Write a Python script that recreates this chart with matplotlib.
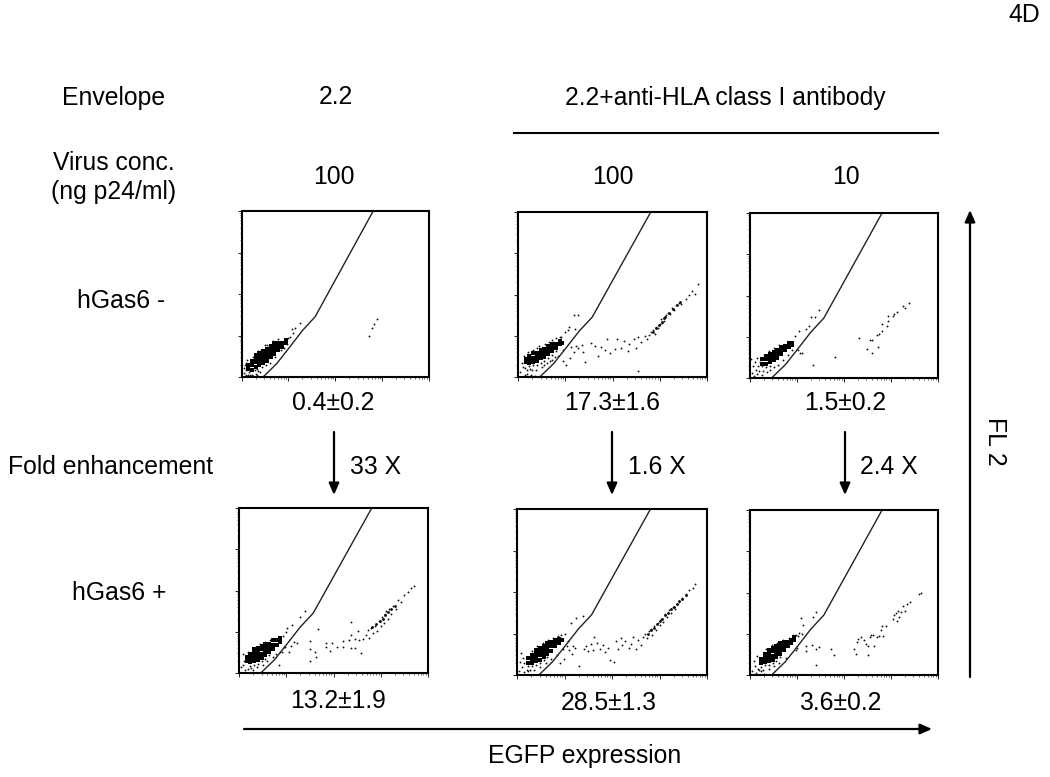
import matplotlib
matplotlib.use("Agg")
import matplotlib.pyplot as plt
import numpy as np
from matplotlib.ticker import LogLocator, NullFormatter

plt.rcParams['font.family'] = ['Liberation Sans', 'DejaVu Sans']

# Gate line, log10 decades
gate_x = [0.46, 0.75, 1.0, 1.3, 1.57, 2.81]
gate_y = [0.0, 0.32, 0.68, 1.12, 1.45, 4.0]

# Each panel: dense core events, dense branch events and sparse events, (log10 EGFP, log10 FL2)
core_a = [(.14,.20),(.14,.30),(.22,.18),(.22,.28),(.22,.38),(.30,.25),(.30,.35),(.30,.45),(.30,.52),
          (.38,.29),(.38,.39),(.38,.49),(.38,.57),(.46,.33),(.46,.43),(.46,.53),(.46,.62),
          (.54,.39),(.54,.49),(.54,.59),(.54,.68),(.62,.47),(.62,.57),(.62,.67),(.62,.75),
          (.70,.55),(.70,.65),(.70,.75),(.70,.81),(.78,.64),(.78,.73),(.78,.83),(.86,.73),(.86,.82),(.94,.82),(.94,.90)]
core_b = [(.16,.36),(.16,.44),(.24,.33),(.24,.43),(.24,.50),(.32,.37),(.32,.47),(.32,.57),(.40,.39),(.40,.49),(.40,.59),
          (.48,.45),(.48,.55),(.48,.65),(.56,.49),(.56,.59),(.56,.69),(.64,.55),(.64,.65),(.64,.75),
          (.72,.63),(.72,.73),(.72,.81),(.80,.71),(.80,.81),(.88,.79),(.88,.87),(.94,.83)]
core_c = [(.26,.35),(.26,.45),(.34,.35),(.34,.45),(.34,.54),(.42,.39),(.42,.49),(.42,.59),
          (.50,.43),(.50,.53),(.50,.63),(.58,.49),(.58,.59),(.58,.69),(.66,.57),(.66,.67),(.66,.75),
          (.74,.67),(.74,.77),(.82,.75),(.82,.84),(.90,.80),(.90,.86)]
core_d = [(.16,.28),(.16,.38),(.24,.26),(.24,.36),(.24,.46),(.32,.28),(.32,.38),(.32,.48),(.32,.57),
          (.40,.31),(.40,.41),(.40,.51),(.40,.61),(.48,.37),(.48,.47),(.48,.57),(.48,.65),
          (.56,.43),(.56,.53),(.56,.63),(.56,.71),(.64,.51),(.64,.61),(.64,.71),
          (.72,.59),(.72,.69),(.72,.79),(.80,.69),(.80,.79),(.86,.76),(.86,.84)]
core_e = [(.24,.30),(.24,.40),(.32,.29),(.32,.39),(.32,.49),(.40,.33),(.40,.43),(.40,.53),(.40,.61),
          (.48,.37),(.48,.47),(.48,.57),(.48,.65),(.56,.43),(.56,.53),(.56,.63),(.56,.71),
          (.64,.51),(.64,.61),(.64,.71),(.64,.77),(.72,.59),(.72,.69),(.72,.79),(.80,.69),(.80,.79),(.80,.85),
          (.88,.78),(.88,.87),(.95,.84)]
core_f = [(.24,.28),(.24,.38),(.32,.31),(.32,.41),(.32,.51),(.40,.33),(.40,.43),(.40,.53),(.40,.61),
          (.48,.37),(.48,.47),(.48,.57),(.48,.65),(.56,.43),(.56,.53),(.56,.63),(.56,.71),
          (.64,.51),(.64,.61),(.64,.71),(.64,.77),(.72,.61),(.72,.71),(.72,.79),(.80,.71),(.80,.81),
          (.88,.78),(.88,.86),(.94,.86),(.94,.91)]

branch_a = []
branch_b = [(2.85,1.10),(2.92,1.18),(2.98,1.26),(3.04,1.34),(3.08,1.42),(3.12,1.46),(3.20,1.55),(3.28,1.66),(3.36,1.74),(3.42,1.82)]
branch_c = []
branch_d = [(2.82,1.12),(2.90,1.18),(2.98,1.26),(3.04,1.32),(3.10,1.40),(3.16,1.48),(3.22,1.54),(3.30,1.62)]
branch_e = [(2.75,1.00),(2.82,1.08),(2.88,1.14),(2.94,1.22),(3.00,1.30),(3.06,1.36),(3.12,1.44),(3.18,1.50),(3.24,1.58),(3.30,1.64),(3.36,1.72),(3.42,1.78),(3.48,1.84),(3.55,1.92)]
branch_f = []

sparse_a = [(.05,.10),(.08,.30),(.10,.05),(.12,.42),(.14,.06),(.18,.06),(.22,.04),(.24,.03),(.25,.49),(.30,.08),(.32,.04),(.35,.62),(.36,.14),(.28,.16),(.34,.20),(.16,.12),
            (.40,.12),(.06,.22),(.09,.18),(.10,.34),(.42,.66),(.50,.76),(.55,.78),(.60,.34),(.44,.25),(.52,.30),(.68,.86),(.72,.47),(.78,.92),(.85,.66),(.90,.70),(.98,.80),(1.00,.95),
            (1.03,.96),(1.07,1.15),(1.10,1.06),(1.15,1.19),(1.25,1.31),(2.72,.99),(2.78,1.19),(2.83,1.27),(2.89,1.39)]
sparse_b = [(.05,.12),(.08,.35),(.10,.25),(.12,.50),(.14,.05),(.15,.22),(.18,.16),(.20,.08),(.22,.60),(.25,.20),(.28,.05),(.30,.16),(.32,.66),(.36,.02),(.24,.26),(.32,.28),(.40,.28),(.48,.34),(.56,.38),
            (.38,.18),(.40,.70),(.45,.76),(.50,.24),(.55,.30),(.62,.34),(.68,.38),(.72,.42),(.78,.48),(.84,.50),(.58,.80),(.66,.86),(.72,.90),(.80,.94),(.88,.96),(.64,.46),(.72,.54),(.80,.62),
            (.92,.98),(.96,.66),(1.00,1.08),(1.05,1.13),(1.08,1.22),(1.18,1.50),(1.28,1.50),(1.20,1.16),(.95,.38),(1.02,.30),(1.10,.46),
            (1.13,.72),(1.18,.60),(1.22,.74),(1.28,.70),(1.35,.78),(1.38,.60),(1.42,.37),(1.55,.82),(1.62,.75),(1.70,.50),(1.75,.72),(1.85,.66),(1.88,.93),
            (1.95,.58),(2.05,.68),(2.10,.93),(2.18,.70),(2.25,.88),(2.32,.62),(2.35,.79),(2.45,.92),(2.50,.70),(2.55,.97),(2.55,.15),(2.60,.85),
            (2.68,1.00),(2.72,.92),(2.78,1.02),(2.82,1.10),(2.86,1.15),(2.90,1.05),(2.93,1.22),(2.96,1.18),(3.00,1.28),(3.02,1.40),(3.05,1.32),(3.08,1.44),
            (3.10,1.36),(3.14,1.50),(3.18,1.56),(3.22,1.52),(3.26,1.68),(3.30,1.62),(3.35,1.74),(3.40,1.80),(3.45,1.78),(3.55,1.90),(3.62,2.00),(3.68,2.08),(3.75,2.02),(3.80,2.25)]
sparse_c = [(.03,.45),(.05,.12),(.07,.30),(.09,.05),(.10,.38),(.12,.20),(.14,.48),(.15,.10),(.18,.28),(.20,.18),(.22,.40),(.25,.08),(.28,.18),(.30,.55),(.36,.15),(.42,.20),(.26,.28),(.34,.26),(.42,.30),
            (.50,.26),(.60,.32),(.70,.44),(.40,.66),(.50,.72),(.62,.80),(.80,.56),(.90,.68),(.96,1.03),(1.05,1.15),(1.03,.69),(1.06,.60),(1.10,.60),
            (1.19,1.19),(1.26,1.27),(1.30,1.49),(1.38,1.49),(1.47,1.64),(1.35,.32),(1.80,.52),(2.31,.97),(2.49,.70),(2.55,.91),(2.59,.91),(2.59,.60),(2.72,.75),
            (2.70,1.04),(2.74,1.07),(2.81,1.13),(2.81,1.30),(2.91,1.27),(2.93,1.39),(2.94,1.51),(3.05,1.51),(3.06,1.55),(3.13,1.61),(3.25,1.74),(3.30,1.69),(3.39,1.81)]
sparse_d = [(.05,.15),(.08,.45),(.10,.28),(.12,.08),(.08,.20),(.18,.50),(.20,.10),(.25,.12),(.30,.08),(.35,.64),(.38,.14),(.45,.70),(.50,.20),(.55,.76),(.60,.28),(.65,.80),(.24,.18),(.32,.20),(.40,.23),(.48,.29),(.56,.35),(.64,.43),
            (.72,.38),(.78,.45),(.82,.86),(.86,.50),(.90,.52),(.94,.90),(.98,.62),(1.00,1.00),(.96,.62),(1.02,1.08),(1.05,.50),(.84,.20),(1.10,.65),
            (1.17,.76),(1.13,1.17),(1.22,.72),(1.29,1.36),(1.40,1.50),(1.50,.28),(1.50,.77),(1.50,.57),(1.60,.52),(1.62,.40),(1.67,1.06),
            (1.85,.73),(1.85,.62),(1.97,.73),(1.93,.54),(2.07,.64),(2.21,.77),(2.21,.64),(2.32,.81),(2.38,1.23),(2.36,.93),(2.38,.60),(2.46,.60),(2.45,.82),(2.52,1.03),(2.58,.48),
            (2.55,.80),(2.62,.82),(2.68,.92),(2.72,1.05),(2.76,.85),(2.80,1.10),(2.84,.98),(2.88,1.15),(2.92,1.02),(2.96,1.27),(3.00,1.15),(3.02,1.35),(3.06,1.22),
            (3.08,1.42),(3.12,1.50),(3.16,1.32),(3.18,1.56),(3.22,1.42),(3.26,1.62),(3.32,1.55),(3.36,1.78),(3.42,1.72),(3.50,1.90),(3.58,1.96),(3.65,2.05),(3.70,2.12)]
sparse_e = [(.05,.10),(.06,.32),(.08,.52),(.10,.20),(.12,.42),(.15,.08),(.14,.28),(.20,.12),(.24,.10),(.28,.12),(.32,.58),(.36,.12),(.42,.70),(.48,.20),(.54,.78),(.60,.28),(.66,.84),(.24,.22),(.32,.22),(.40,.25),(.48,.29),(.56,.35),(.64,.43),
            (.72,.38),(.76,.90),(.84,.48),(.86,.94),(.92,.96),(.96,.62),(1.00,1.00),(.90,.30),(.98,.38),(1.05,.70),(1.10,.60),(1.08,.82),(1.15,.50),(1.18,.70),(1.22,.66),(1.30,.22),
            (1.14,1.26),(1.25,1.38),(1.38,1.42),(1.40,.62),(1.45,.70),(1.50,.58),(1.55,.74),(1.60,.60),(1.63,.92),(1.68,.76),(1.75,.62),(1.80,.72),(1.85,.55),(1.92,.66),(1.95,.35),
            (2.05,.32),(2.08,.82),(2.12,.62),(2.18,.90),(2.22,.72),(2.28,.82),(2.35,.66),(2.40,.74),(2.45,.92),(2.50,.62),(2.55,.85),(2.60,.72),(2.66,.92),(2.70,.98),
            (2.74,.88),(2.78,1.05),(2.82,1.10),(2.84,.96),(2.88,1.18),(2.92,1.08),(2.96,1.26),(3.00,1.20),(3.04,1.36),(3.08,1.28),(3.12,1.46),(3.16,1.40),(3.20,1.56),
            (3.24,1.50),(3.28,1.64),(3.32,1.60),(3.36,1.72),(3.42,1.76),(3.48,1.86),(3.55,1.96),(3.62,2.05),(3.70,2.10),(3.75,2.20)]
sparse_f = [(.05,.10),(.08,.34),(.10,.22),(.12,.06),(.14,.46),(.16,.14),(.20,.12),(.24,.10),(.28,.12),(.30,.02),(.34,.62),(.40,.14),(.46,.72),(.52,.22),(.58,.78),(.62,.30),(.24,.20),(.32,.24),(.40,.25),(.48,.29),(.56,.35),(.64,.43),
            (.70,.86),(.76,.42),(.84,.90),(.92,.96),(.98,.98),(1.02,.95),(1.05,1.02),(1.10,1.00),(1.12,1.22),(.98,.60),(1.00,.66),(1.20,.70),(1.20,.58),(1.31,.72),(1.40,.64),
            (1.40,.25),(1.47,.68),(1.08,1.38),(1.33,1.40),(1.40,1.52),(1.72,.62),(1.78,.48),(2.22,.62),(2.26,.52),(2.27,.80),(2.30,.88),(2.36,.92),(2.42,.85),
            (2.47,.75),(2.50,.48),(2.52,.70),(2.55,.93),(2.58,.96),(2.62,.98),(2.64,.70),(2.70,.92),(2.74,.94),(2.78,1.10),(2.80,1.18),(2.82,.95),(2.90,1.20),(3.05,1.35),
            (3.06,1.45),(3.10,1.50),(3.12,1.30),(3.15,1.55),(3.18,1.40),(3.22,1.52),(3.25,1.68),(3.30,1.56),(3.34,1.72),(3.40,1.78),(3.60,1.96),(3.64,2.00)]

cores = [core_a, core_b, core_c, core_d, core_e, core_f]
branches = [branch_a, branch_b, branch_c, branch_d, branch_e, branch_f]
sparses = [sparse_a, sparse_b, sparse_c, sparse_d, sparse_e, sparse_f]

W, H = 1050, 777
fig = plt.figure(figsize=(W/100, H/100), dpi=100, facecolor='white')

boxes = [(241.5,211,429,377),(518,212,707,377),(750,213,938,378),
         (239,508,428,673),(517,509,707,675),(750,510,938,675)]

for (l,t,r,b), core, branch, sparse in zip(boxes, cores, branches, sparses):
    ax = fig.add_axes([l/W, 1-b/H, (r-l)/W, (b-t)/H])
    ax.set_xscale('log'); ax.set_yscale('log')
    ax.set_xlim(1, 1e4); ax.set_ylim(1, 1e4)
    c = np.array(core); s = np.array(sparse)
    ax.scatter(10**c[:,0], 10**c[:,1], s=12, c='black', marker='s', linewidths=0)
    if branch:
        m = np.array(branch)
        ax.scatter(10**m[:,0], 10**m[:,1], s=4, c='black', linewidths=0)
    ax.scatter(10**s[:,0], 10**s[:,1], s=1.8, c='#111111', linewidths=0)
    ax.plot(10**np.array(gate_x), 10**np.array(gate_y), color='#222222', lw=1.0)
    for sp in ax.spines.values():
        sp.set_linewidth(1.5)
    for axis in (ax.xaxis, ax.yaxis):
        axis.set_major_locator(LogLocator(base=10, numticks=6))
        axis.set_minor_locator(LogLocator(base=10, subs=np.arange(2,10), numticks=6))
        axis.set_major_formatter(NullFormatter())
        axis.set_minor_formatter(NullFormatter())
    ax.tick_params(which='major', length=3, width=0.7, direction='out', color='#222222')
    ax.tick_params(which='minor', length=1.6, width=0.5, direction='out', color='#333333')

ov = fig.add_axes([0,0,1,1]); ov.set_xlim(0,W); ov.set_ylim(H,0); ov.axis('off'); ov.patch.set_alpha(0)
FS = 17.8
def T(x, y, s, **k):
    k.setdefault('va', 'center_baseline')
    ov.text(x, y, s, ha='center', fontsize=FS, color='black', **k)

T(1024,13,'4D'); T(114,96,'Envelope'); T(336,95,'2.2'); T(725,95,'2.2+anti-HLA class I antibody')
T(114,160,'Virus conc.'); T(114,190,'(ng p24/ml)')
T(334,174,'100'); T(613,174,'100'); T(846,174,'10')
T(121,298,'hGas6 -'); T(119,591,'hGas6 +')
T(333,401,'0.4±0.2'); T(612,400,'17.3±1.6'); T(845,401,'1.5±0.2')
T(111,465,'Fold enhancement'); T(376,465,'33 X'); T(657,465,'1.6 X'); T(889,465,'2.4 X')
T(338,699,'13.2±1.9'); T(609,701,'28.5±1.3'); T(840,701,'3.6±0.2')
T(585,754,'EGFP expression'); T(995,441,'FL 2', rotation=270, va='center')

ov.plot([514,938],[133,133], color='black', lw=1.5)
def arrow(x0,y0,x1,y1):
    ov.annotate('', xy=(x1,y1), xytext=(x0,y0),
                arrowprops=dict(arrowstyle='-|>,head_length=0.5,head_width=0.22', color='black', lw=1.6,
                                shrinkA=0, shrinkB=0, mutation_scale=14))
arrow(334,432,334,495); arrow(612,432,612,495); arrow(845,432,845,495)
arrow(244,729,932,729); arrow(970,677,970,210)

fig.savefig('out.png', dpi=100, facecolor='white')
